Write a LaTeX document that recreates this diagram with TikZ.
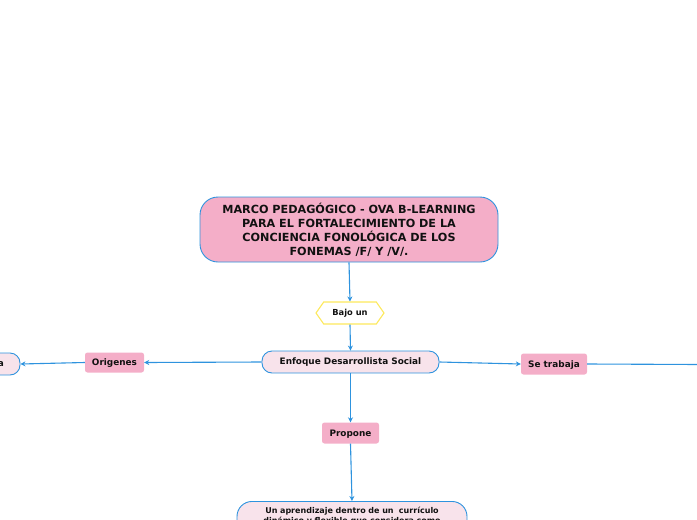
\documentclass[tikz,border=0pt]{standalone}
\usepackage{fontspec}
\setmainfont{DejaVu Sans}
\usetikzlibrary{shapes.symbols,arrows.meta}
\definecolor{pinkA}{HTML}{F4AEC8}
\definecolor{pinkB}{HTML}{F8E3EB}
\definecolor{lineB}{HTML}{2E93DE}
\definecolor{yel}{HTML}{FDE95C}
\definecolor{txt}{HTML}{111111}
\tikzset{
  conn/.style={draw=lineB, line width=1.1pt, -{Stealth[length=5pt,width=5pt]}},
  plain/.style={draw=lineB, line width=1.1pt},
  topic/.style={draw=lineB, line width=0.9pt, fill=pinkB, rounded corners=10pt, font=\bfseries\fontsize{8.9}{10}\selectfont, text=txt, inner sep=0pt},
  label/.style={fill=pinkA, rounded corners=2.5pt, font=\bfseries\fontsize{8.9}{10}\selectfont, text=txt, inner sep=0pt, text height=7pt, text depth=1pt},
}
\begin{document}
\begin{tikzpicture}[x=1pt,y=-1pt]
\useasboundingbox (0,0) rectangle (697,520);
\clip (0,0) rectangle (697,520);
\node[draw=lineB, line width=0.9pt, fill=pinkA, rounded corners=18pt, minimum width=298pt, minimum height=65pt, inner sep=0pt, align=center, font=\bfseries\fontsize{11.2}{14}\selectfont, text=txt] (main) at (349,229.5) {MARCO PEDAGÓGICO - OVA B-LEARNING\\PARA EL FORTALECIMIENTO DE LA\\CONCIENCIA FONOLÓGICA DE LOS\\FONEMAS /F/ Y /V/.};
\node[shape=signal, signal to=west and east, signal pointer angle=110, draw=yel, line width=1.1pt, fill=white, minimum width=68pt, minimum height=22pt, inner sep=0pt, font=\bfseries\fontsize{8.3}{10}\selectfont, text=txt] (bajo) at (350,313) {Bajo un};
\node[topic, minimum width=177pt, minimum height=22pt] (enf) at (350.5,362) {Enfoque Desarrollista Social};
\node[label, minimum width=59pt, minimum height=20pt] (orig) at (114.5,362.5) {Origenes};
\node[topic, minimum width=60pt, minimum height=22pt, text width=56pt, align=right] (left) at (-10,364) {a\hspace*{14pt}};
\node[label, minimum width=66pt, minimum height=21pt] (setr) at (554,364) {Se trabaja};
\coordinate (rightend) at (700,364.5);
\node[label, minimum width=57pt, minimum height=21pt] (prop) at (350.5,433) {Propone};
\node[topic, rounded corners=15pt, minimum width=230pt, text width=214pt, inner xsep=8pt, inner ysep=6pt, align=center, font=\bfseries\fontsize{8}{9.5}\selectfont, anchor=north] (apr) at (352,501) {Un aprendizaje dentro de un \ currículo\\dinámico y flexible que considera como\\ \ \\ \ };
\draw[conn] (main.south -| 349,0) -- (bajo.north);
\draw[conn] (bajo.south) -- (enf.north);
\draw[conn] (enf.west) -- (orig.east);
\draw[conn] (orig.west) -- (left.east);
\draw[conn] (enf.east) -- (setr.west);
\draw[plain] (setr.east) -- (rightend);
\draw[conn] (enf.south) -- (prop.north);
\draw[conn] (prop.south) -- (apr.north);
\end{tikzpicture}
\end{document}
